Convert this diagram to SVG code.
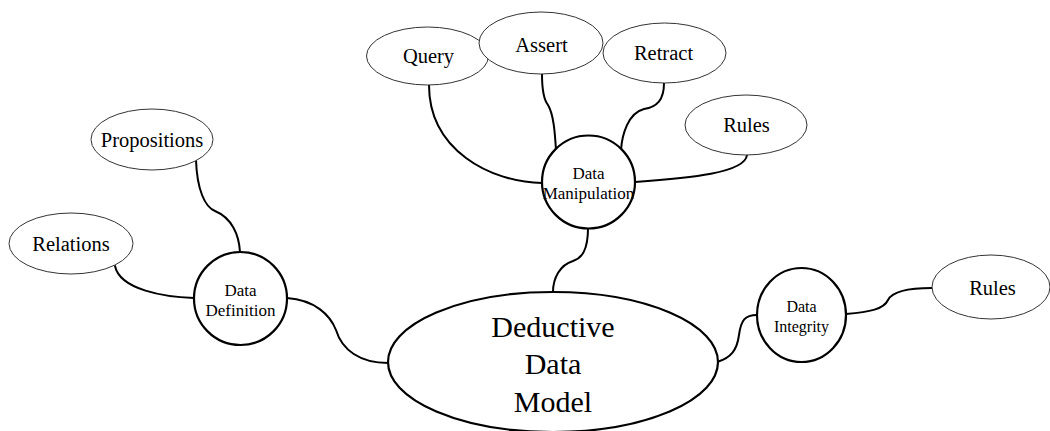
<svg xmlns="http://www.w3.org/2000/svg" width="1050" height="431" viewBox="0 0 1050 431">
  <style>
    .leaf { fill: #ffffff; stroke: #333333; stroke-width: 1; }
    .hub { fill: #ffffff; stroke: #000000; stroke-width: 2.2; }
    .link { fill: none; stroke: #000000; stroke-width: 2; stroke-linecap: round; }
    text { font-family: "Liberation Serif", "Times New Roman", serif; fill: #000000; text-anchor: middle; }
    .lbl { font-size: 20.5px; }
    .small { font-size: 17px; }
    .big { font-size: 30px; }
  </style>
  <rect width="1050" height="431" fill="#ffffff"/>

  <!-- connectors -->
  <g id="connectors">
    <!-- Data Definition branch -->
    <path class="link" d="M196,160 C197,190 205,207 215,211 C232,218 239,235 240,252"/>
    <path class="link" d="M115,266 C120,290 165,297 194,298"/>
    <path class="link" d="M287,298 C315,300 330,315 336,330 C342,350 360,363 388,363"/>
    <!-- Data Manipulation branch -->
    <path class="link" d="M429,85 C429,150 490,182 542,183"/>
    <path class="link" d="M542,74 C542,92 544,100 548,105 C554,115 555,135 556,150"/>
    <path class="link" d="M664,83 C664,100 657,107 644,109 C628,113 622,135 621,150"/>
    <path class="link" d="M747,155 C745,173 690,178 635,182"/>
    <path class="link" d="M588,228 C588,250 582,258 573,261 C560,265 553,278 553,292"/>
    <!-- Data Integrity branch -->
    <path class="link" d="M717,362 C731,358 737,350 739,335 C741,320 745,315 757,315"/>
    <path class="link" d="M846,314 C870,312 884,309 888,300 C892,292 905,288 932,288"/>
  </g>

  <!-- central node -->
  <g id="deductive-data-model">
    <ellipse class="hub" cx="553" cy="362" rx="165" ry="70"/>
    <text class="big" x="553" y="337">Deductive</text>
    <text class="big" x="553" y="374">Data</text>
    <text class="big" x="553" y="412">Model</text>
  </g>

  <g id="data-definition">
    <circle class="hub" cx="240.5" cy="298.5" r="46.5"/>
    <text class="small" x="240.5" y="296">Data</text>
    <text class="small" x="240.5" y="316">Definition</text>
  </g>

  <g id="data-manipulation">
    <circle class="hub" cx="588.5" cy="182" r="46.5"/>
    <text class="small" x="588.5" y="179">Data</text>
    <text class="small" x="588.5" y="199">Manipulation</text>
  </g>

  <g id="data-integrity">
    <ellipse class="hub" cx="801.5" cy="315" rx="44.5" ry="47"/>
    <text x="801.5" y="312" font-size="16">Data</text>
    <text x="801.5" y="332" font-size="16">Integrity</text>
  </g>

  <!-- leaf nodes -->
  <g id="propositions">
    <ellipse class="leaf" cx="152" cy="139.5" rx="61" ry="30.5"/>
    <text class="lbl" x="152" y="147">Propositions</text>
  </g>

  <g id="relations">
    <ellipse class="leaf" cx="71" cy="243.5" rx="62" ry="30.5"/>
    <text class="lbl" x="71" y="251">Relations</text>
  </g>

  <g id="query">
    <ellipse class="leaf" cx="427.5" cy="56" rx="61" ry="29"/>
    <text class="lbl" x="428.5" y="63">Query</text>
  </g>

  <g id="retract">
    <ellipse class="leaf" cx="664.5" cy="53" rx="61.5" ry="30"/>
    <text class="lbl" x="663.5" y="60">Retract</text>
  </g>

  <g id="assert">
    <ellipse class="leaf" cx="541" cy="43" rx="62" ry="31"/>
    <text class="lbl" x="541.5" y="52">Assert</text>
  </g>

  <g id="rules-manipulation">
    <ellipse class="leaf" cx="746" cy="125" rx="61" ry="30"/>
    <text class="lbl" x="746.5" y="132">Rules</text>
  </g>

  <g id="rules-integrity">
    <ellipse class="leaf" cx="991" cy="287" rx="59" ry="32"/>
    <text class="lbl" x="992.5" y="295">Rules</text>
  </g>
</svg>
